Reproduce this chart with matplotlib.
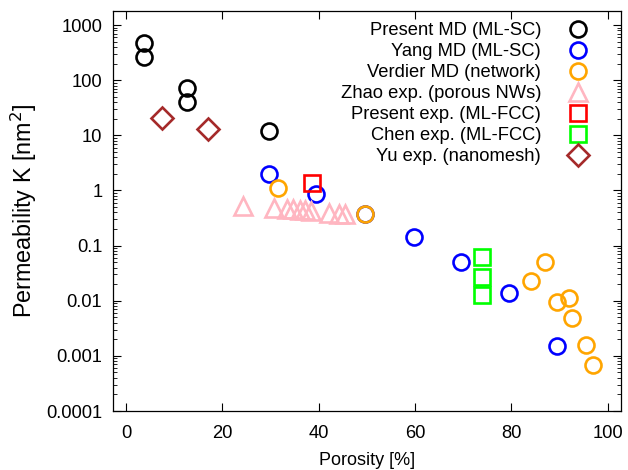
import matplotlib
matplotlib.use("Agg")
import matplotlib.pyplot as plt
from matplotlib.ticker import LogLocator, FixedLocator, NullFormatter

plt.rcParams['font.family'] = ['Liberation Sans', 'DejaVu Sans']

# Data (porosity %, permeability nm^2)
present_md_x = [3.8, 3.8, 12.6, 12.6, 29.6]
present_md_y = [478, 266, 71, 41, 12.0]

yang_md_x = [29.6, 39.5, 49.7, 59.7, 69.5, 79.6, 89.5]
yang_md_y = [1.99, 0.85, 0.37, 0.145, 0.051, 0.0136, 0.00153]

verdier_x = [31.6, 49.7, 84.1, 86.9, 89.5, 91.9, 92.5, 95.5, 97.0]
verdier_y = [1.09, 0.37, 0.0231, 0.0497, 0.0096, 0.0113, 0.0049, 0.00157, 0.00068]

zhao_x = [24.2, 30.6, 33.5, 34.7, 36.0, 37.2, 38.3, 42.2, 44.1, 45.5]
zhao_y = [0.52, 0.48, 0.46, 0.46, 0.45, 0.44, 0.43, 0.39, 0.38, 0.37]

present_exp_x = [38.6]
present_exp_y = [1.35]

chen_x = [73.9, 73.9, 73.9]
chen_y = [0.061, 0.0265, 0.0127]

yu_x = [7.4, 16.9]
yu_y = [20.3, 13.0]

labels = ["Present MD (ML-SC)", "Yang MD (ML-SC)", "Verdier MD (network)",
          "Zhao exp. (porous NWs)", "Present exp. (ML-FCC)",
          "Chen exp. (ML-FCC)", "Yu exp. (nanomesh)"]

x_ticks = [0, 20, 40, 60, 80, 100]
y_ticks = [1e-4, 1e-3, 1e-2, 1e-1, 1, 10, 100, 1000]
y_ticklabels = ["0.0001", "0.001", "0.01", "0.1", "1", "10", "100", "1000"]

fig = plt.figure(figsize=(6.28, 4.70), dpi=100)
ax = fig.add_axes([0.1795, 0.1255, 0.8095, 0.8511])

ms = 11.5
mew = 1.9
series = [
    (present_md_x, present_md_y, 'o', '#000000', ms),
    (yang_md_x, yang_md_y, 'o', '#0000ff', ms),
    (verdier_x, verdier_y, 'o', '#ffa500', ms),
    (zhao_x, zhao_y, '^', '#ffb6c1', 12.5),
    (present_exp_x, present_exp_y, 's', '#ff0000', ms),
    (chen_x, chen_y, 's', '#00ff00', ms),
    (yu_x, yu_y, 'D', '#a52a2a', 11.0),
]
for (xs, ys, m, c, s), lab in zip(series, labels):
    ax.plot(xs, ys, linestyle='none', marker=m, markersize=s,
            markerfacecolor='none', markeredgecolor=c, markeredgewidth=mew,
            label=lab)

ax.set_yscale('log')
ax.set_xlim(-2.8, 102.8)
ax.set_ylim(1e-4, 1800)

ax.xaxis.set_major_locator(FixedLocator(x_ticks))
ax.set_xticks(x_ticks)
ax.set_xticklabels([str(v) for v in x_ticks])
ax.set_yticks(y_ticks)
ax.set_yticklabels(y_ticklabels)
ax.yaxis.set_minor_locator(LogLocator(base=10, subs=range(2, 10), numticks=20))
ax.yaxis.set_minor_formatter(NullFormatter())

ax.tick_params(axis='both', which='major', direction='in', length=6, width=0.8,
               labelsize=13.2, top=True, right=True)
ax.tick_params(axis='y', which='major', pad=7.5)
ax.tick_params(axis='x', which='major', pad=10)
ax.tick_params(axis='y', which='minor', direction='in', length=3, width=0.6,
               left=True, right=True)
for sp in ax.spines.values():
    sp.set_linewidth(0.9)

ax.set_xlabel("Porosity [%]", fontsize=13, labelpad=7)
ax.set_ylabel("Permeability K [nm$^2$]", fontsize=16.8, labelpad=5)

leg = ax.legend(loc='upper right', bbox_to_anchor=(0.955, 0.991),
                frameon=False, markerfirst=False,
                fontsize=13.2, handlelength=1.4, handletextpad=1.32,
                labelspacing=0.22, borderaxespad=0.0, numpoints=1)
for t in leg.get_texts():
    t.set_ha('right')

fig.savefig("out.png", dpi=100)
